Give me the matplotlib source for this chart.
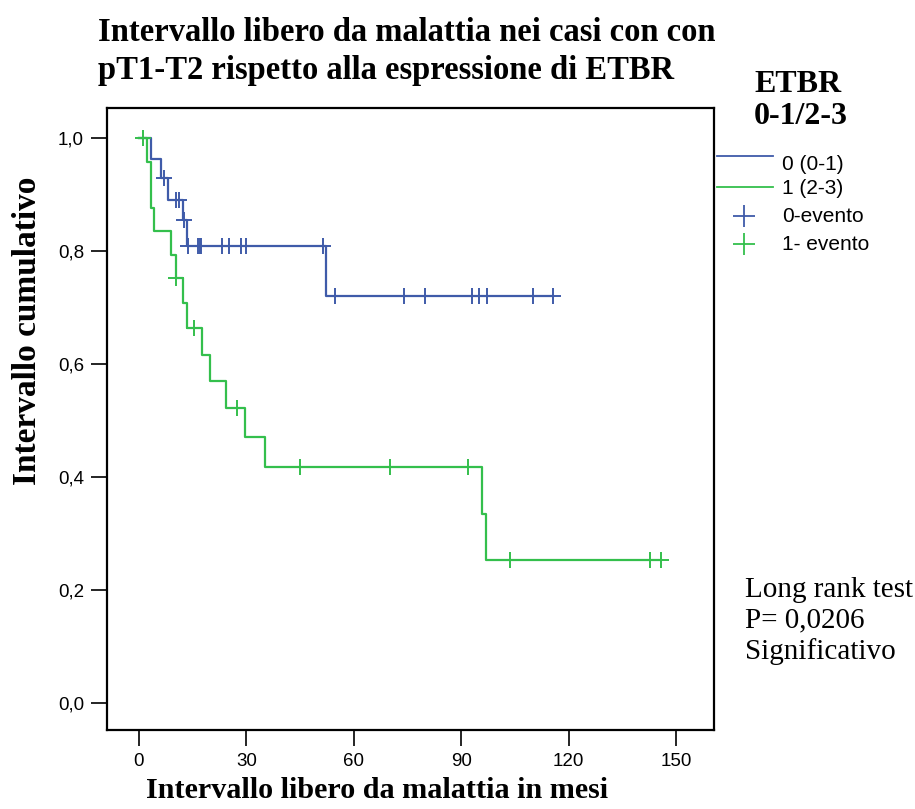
import numpy as np
import matplotlib
matplotlib.use("Agg")
import matplotlib.pyplot as plt
from matplotlib.lines import Line2D

# ---- data ----
blue_step_t = [0, 3.3, 6.1, 8.0, 12.4, 13.4, 52.3]
blue_step_s = [1.0, 0.963, 0.929, 0.890, 0.854, 0.809, 0.721]
blue_censor = [7.0, 10.3, 11.3, 12.6, 13.6, 16.6, 17.0, 17.4, 23.1, 25.2, 28.4, 29.9,
               51.3, 54.9, 74.1, 79.8, 93.0, 95.0, 97.1, 110.1, 115.7]

green_step_t = [0, 2.2, 3.3, 4.3, 9.1, 10.3, 12.2, 13.3, 17.5, 20.0, 24.2, 29.5, 35.2, 95.9, 97.0]
green_step_s = [1.0, 0.958, 0.876, 0.835, 0.793, 0.752, 0.707, 0.663, 0.616, 0.569, 0.522,
                0.471, 0.417, 0.335, 0.253]
green_censor = [1.2, 10.5, 15.5, 27.3, 45.1, 70.0, 91.9, 103.6, 142.7, 145.8]

x_ticks = [0, 30, 60, 90, 120, 150]
y_ticks = [0.0, 0.2, 0.4, 0.6, 0.8, 1.0]
y_ticklabels = ["0,0", "0,2", "0,4", "0,6", "0,8", "1,0"]
series_labels = ["0 (0-1)", "1 (2-3)"]
censor_labels = ["0-evento", "1- evento"]

BLUE = "#3f5ba9"
GREEN = "#34bf4c"
SERIF = "Liberation Serif"
SANS = "Liberation Sans"

fig = plt.figure(figsize=(9.15, 8.09), dpi=100)
ax = fig.add_axes([107/915, 1-730/809, (714-107)/915, (730-108)/809])


def draw_km(step_t, step_s, censor, color):
    t_end = max(censor[-1], step_t[-1])
    xs = list(step_t) + [t_end]
    ys = list(step_s) + [step_s[-1]]
    ax.step(xs, ys, where="post", color=color, lw=1.6)
    idx = np.searchsorted(step_t, censor, side="right") - 1
    cs = np.asarray(step_s)[idx]
    ax.plot(censor, cs, linestyle="none", marker="+", color=color,
            markersize=11, markeredgewidth=1.4)


draw_km(blue_step_t, blue_step_s, blue_censor, BLUE)
draw_km(green_step_t, green_step_s, green_censor, GREEN)

ax.set_xlim(-8.9, 160.6)
ax.set_ylim(-0.048, 1.053)
ax.set_xticks(x_ticks)
ax.set_xticklabels([str(v) for v in x_ticks], fontfamily=SANS, fontsize=13.5)
ax.set_yticks(y_ticks)
ax.set_yticklabels(y_ticklabels, fontfamily=SANS, fontsize=13.5)
ax.tick_params(direction="out", length=11.5, width=1.2, pad=5)
for sp in ax.spines.values():
    sp.set_linewidth(1.6)

fig.text(28/915, 1-331/809, "Intervallo cumulativo", rotation=90, ha="center", va="center",
         fontfamily=SERIF, fontweight="bold", fontsize=24)
fig.text(377/915, 1-790/809, "Intervallo libero da malattia in mesi", ha="center", va="center",
         fontfamily=SERIF, fontweight="bold", fontsize=21.7)

fig.text(98/915, 1-17/809, "Intervallo libero da malattia nei casi con con\npT1-T2 rispetto alla espressione di ETBR",
         ha="left", va="top", fontfamily=SERIF, fontweight="bold", fontsize=23.5, linespacing=1.3)

fig.text(754/915, 1-70/809, "ETBR\n0-1/2-3", ha="left", va="top", fontfamily=SERIF,
         fontweight="bold", fontsize=23, linespacing=1.15)

# legend
leg_y = [156, 187]
lab_y = [165, 189]
for c, yy, ly, lab in zip([BLUE, GREEN], leg_y, lab_y, series_labels):
    fig.add_artist(Line2D([717/915, 773/915], [1-yy/809, 1-yy/809], color=c, lw=1.3))
    fig.text(782/915, 1-ly/809, lab, ha="left", va="center", fontfamily=SANS, fontsize=15)
cross_y = [216, 244]
for c, yy, lab in zip([BLUE, GREEN], cross_y, censor_labels):
    fig.add_artist(Line2D([744/915], [1-yy/809], color=c, marker="+", markersize=16,
                          markeredgewidth=1.3, linestyle="none"))
    fig.text(782/915, 1-yy/809, lab, ha="left", va="center", fontfamily=SANS, fontsize=15)

fig.text(745/915, 1-621/809, "Long rank test\nP= 0,0206\nSignificativo", ha="left", va="center",
         fontfamily=SERIF, fontsize=21, linespacing=1.2)

fig.savefig("out.png", dpi=100)
